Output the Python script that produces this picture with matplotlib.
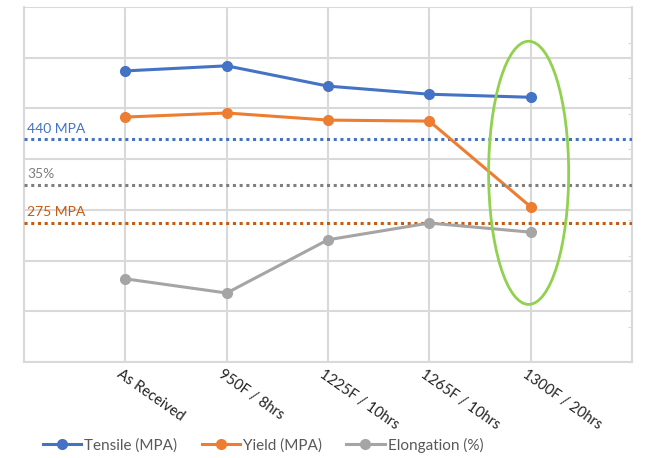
import matplotlib.pyplot as plt
from matplotlib.patches import Ellipse

plt.rcParams['font.family'] = ['Lato', 'DejaVu Sans']

treatments = ['As Received', '950F / 8hrs', '1225F / 10hrs', '1265F / 10hrs', '1300F / 20hrs']
tensile = [574, 584, 544, 528, 522]
yield_ = [483, 491, 477, 475, 306]
elongation = [16.4, 13.6, 24.1, 27.4, 25.6]

tensile_min = 440
yield_min = 275
elong_min = 35

blue = '#4472C4'
orange = '#ED7D31'
gray = '#A5A5A5'
grid = '#D9D9D9'

fig = plt.figure(figsize=(6.47, 4.58), dpi=100)
ax = fig.add_axes([24/647, 1-362/458, 608/647, 355/458])
ax2 = ax.twinx()

x = list(range(1, len(treatments) + 1))

ax.set_xlim(0, 6)
ax.set_ylim(0, 700)
ax2.set_ylim(0, 70)

ax.set_yticks(range(0, 701, 100))
ax.set_xticks(range(0, 7))
ax.grid(True, color=grid, lw=1.5)
ax.tick_params(axis='both', length=0, labelleft=False, labelbottom=False)
for s in ax.spines.values():
    s.set_color(grid)
    s.set_linewidth(1.5)
ax.spines['top'].set_visible(False)
for s in ax2.spines.values():
    s.set_visible(False)
ax2.set_yticks([v * 7 for v in range(11)])
ax2.tick_params(axis='y', direction='in', length=3, color=grid, labelright=False)

l1, = ax.plot(x, tensile, color=blue, lw=2.2, marker='o', ms=7, label='Tensile (MPA)', zorder=4)
l2, = ax.plot(x, yield_, color=orange, lw=2.2, marker='o', ms=7, label='Yield (MPA)', zorder=4)
l3, = ax2.plot(x, elongation, color=gray, lw=2.2, marker='o', ms=7, label='Elongation (%)', zorder=4)

ax.axhline(tensile_min, color=blue, ls=(0, (1, 1.2)), lw=2.2, zorder=3)
ax.axhline(yield_min, color='#C55A11', ls=(0, (1, 1.2)), lw=2.2, zorder=3)
ax2.axhline(elong_min, color='#7F7F7F', ls=(0, (1, 1.2)), lw=2.2, zorder=3)

ax.text(0.03, tensile_min + 8, '440 MPA', color=blue, fontsize=10, va='bottom')
ax2.text(0.03, elong_min + 0.8, '35%', color='#7F7F7F', fontsize=10, va='bottom')
ax.text(0.03, yield_min + 8, '275 MPA', color='#C55A11', fontsize=10, va='bottom')

ax2.add_patch(Ellipse((4.98, 37.3), 0.79, 51.9, fill=False, ec='#92D050', lw=2, zorder=5))

for xi, lab in zip(x, treatments):
    ax.text(xi - 0.03, -10, lab, rotation=-35, rotation_mode='anchor',
            ha='left', va='top', fontsize=10.5, color='#222222')

fig.legend(handles=[l1, l2, l3], loc='center', bbox_to_anchor=(263/647, 1-445/458),
           ncol=3, frameon=False, fontsize=11, handlelength=2.5, handletextpad=0.2,
           columnspacing=1.6, labelcolor='#595959')

fig.savefig('out.png', dpi=100)
